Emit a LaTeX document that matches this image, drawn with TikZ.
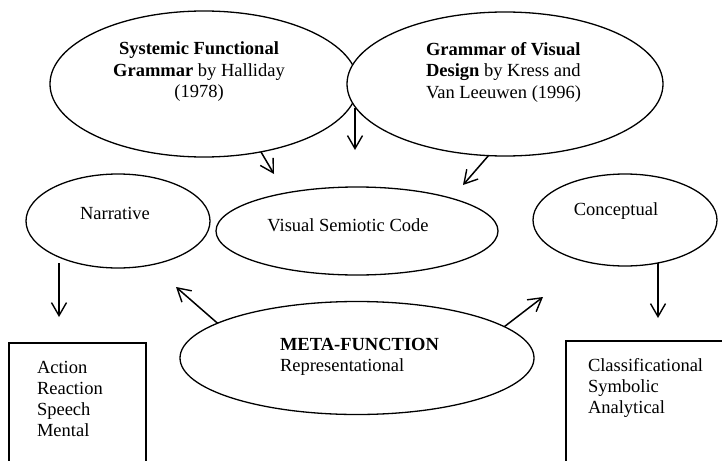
\documentclass[tikz,border=0pt]{standalone}
\usepackage{fontspec}
\setmainfont{Liberation Serif}
\usetikzlibrary{shapes.geometric,arrows.meta}
\begin{document}
\begin{tikzpicture}[x=1pt,y=-1pt,
  every node/.style={font=\fontsize{18.5}{21.5}\selectfont, inner sep=0pt, outer sep=0pt},
  oval/.style={draw, ellipse, line width=1.3pt, fill=white, inner sep=0pt},
  box/.style={draw, rectangle, line width=1.3pt},
  arr/.style={-{Straight Barb[length=13pt,width=15pt,line width=1.4pt]}, line width=1.5pt},
  lbl/.style={align=left}
]
\useasboundingbox (0,0) rectangle (722,460);
\clip (0,0) rectangle (722,460);
% ellipses
\node[oval, minimum width=308pt, minimum height=146pt] (sfg) at (204,84) {};
\node[oval, minimum width=316pt, minimum height=144pt] (gvd) at (505,84) {};
\node[oval, minimum width=184pt, minimum height=94pt] (narr) at (118,221) {};
\node[oval, minimum width=282pt, minimum height=88pt] (vsc) at (357,231) {};
\node[oval, minimum width=184pt, minimum height=92pt] (conc) at (625,220) {};
\node[oval, minimum width=354pt, minimum height=113pt] (meta) at (357,358) {};
% boxes
\node[box, minimum width=137pt, minimum height=150pt, anchor=north west] (lbox) at (9,343) {};
\node[box, minimum width=190pt, minimum height=150pt, anchor=north west] (rbox) at (566,341) {};
% texts
\node[align=center] (sfgt) at (199,72) {\textbf{Systemic Functional}\\\textbf{Grammar} by Halliday\\(1978)};
\node[lbl, anchor=west] (gvdt) at (426,72) {\textbf{Grammar of Visual}\\\textbf{Design} by Kress and\\Van Leeuwen (1996)};
\node (narrt) at (115,213) {Narrative};
\node (conct) at (616,211) {Conceptual};
\node (vsct) at (348,225) {Visual Semiotic Code};
\node[lbl, anchor=west] (metat) at (280,357) {\textbf{META-FUNCTION}\\Representational};
\node[lbl, anchor=north west, font=\fontsize{18.5}{21}\selectfont] (lboxt) at (37,361) {Action\\Reaction\\Speech\\Mental};
\node[lbl, anchor=north west, font=\fontsize{18.5}{21}\selectfont] (rboxt) at (588,358) {Classificational\\Symbolic\\Analytical};
% arrow end points
\coordinate (a1e) at (274,174);
\coordinate (a2e) at (355,150);
\coordinate (a3e) at (463,185);
\coordinate (a4e) at (59,317);
\coordinate (a5e) at (176,287);
\coordinate (a6e) at (543,297);
\coordinate (a7e) at (658,318);
% arrows
\draw[arr] (sfg.-50) -- (a1e);
\draw[arr] (a2e |- gvd.189) -- (a2e);
\draw[arr] (gvd.-103) -- (a3e);
\draw[arr, shorten <=6pt] (a4e |- narr.-148.6) -- (a4e);
\draw[arr] (meta.166) -- (a5e);
\draw[arr] (meta.12) -- (a6e);
\draw[arr] (a7e |- conc.-52.5) -- (a7e);
\end{tikzpicture}
\end{document}
